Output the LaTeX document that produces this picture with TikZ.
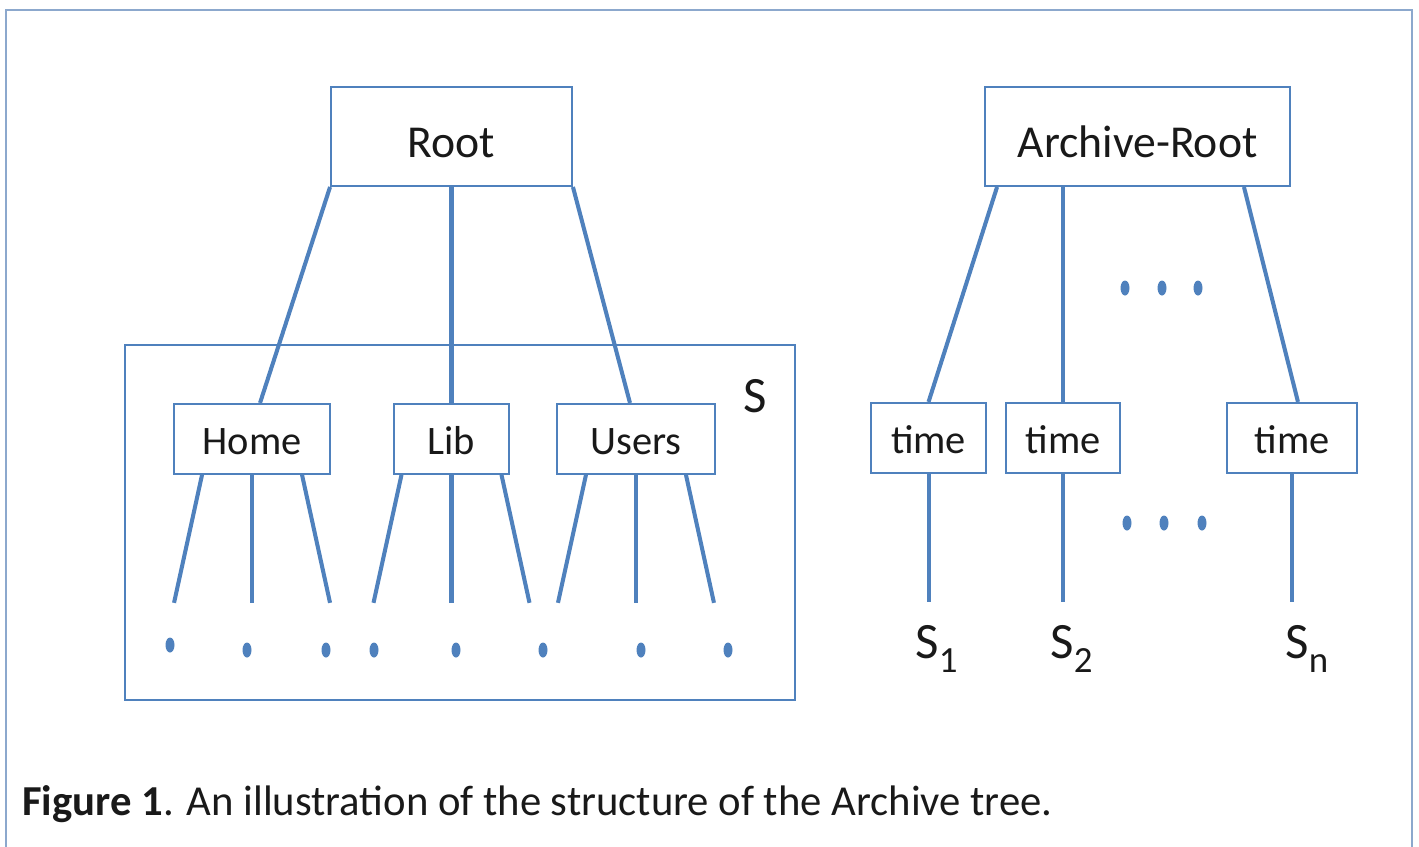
\documentclass[tikz,border=0pt]{standalone}
\usepackage{fontspec}
\setmainfont{Carlito}
\usetikzlibrary{positioning,calc}

\definecolor{treeblue}{RGB}{79,129,189}
\definecolor{framegray}{RGB}{140,168,205}
\newcommand{\lowsub}[1]{\raisebox{-8pt}{\fontsize{21}{21}\selectfont #1}}

\begin{document}
\begin{tikzpicture}[
    x=0.02cm, y=-0.02cm,
    node distance = 4.32cm,
    every node/.style = {align=center, text=black!90},
    box/.style = {draw=treeblue, line width=1.1pt, fill=white, inner sep=0pt,
                  minimum height=1.40cm, text height=0.64cm, text depth=0cm,
                  font=\fontsize{23}{28}\selectfont},
    topbox/.style = {box, minimum height=1.98cm, text height=0.82cm,
                     font=\fontsize{26}{31}\selectfont},
    link/.style = {draw=treeblue, line width=2.3pt},
    slabel/.style = {inner sep=0pt, font=\fontsize{29}{34}\selectfont},
  ]
    \useasboundingbox (0,0) rectangle (1419,846);

    % outer frame, open at the bottom
    \draw[framegray, line width=1.6pt] (6,870) -- (6,10) -- (1412,10) -- (1412,870);

    % left tree
    \node (root) [topbox, minimum width=4.82cm] at (451.5,136.5) {Root};
    \node (home) [box, minimum width=3.12cm, below=of root, xshift=-3.99cm] {Home};
    \node (lib) [box, minimum width=2.30cm, below=of root] {Lib};
    \node (users) [box, minimum width=3.16cm, below=of root, xshift=3.69cm] {Users};

    \draw[treeblue, line width=1.1pt] (125,345) rectangle (795,700);
    \node (S) [slabel] at (755,396) {S};

    \path[link] (root.south west) edge ([xshift=0.16cm]home.north)
                (root.south) edge (lib.north)
                (root.south east) edge ([xshift=-0.12cm]users.north);

    \foreach \p in {home,lib,users} {
      \foreach \d/\n in {-1/l,0/m,1/r} {
        \coordinate (\p-\n) at ($(\p.south)+(\d*78,128)$);
        \draw[link] ($(\p.south)+(\d*50,0)$) -- (\p-\n);
      }
    }
    \foreach \x/\y in {170/645,247/650,326/650,374/650,456/650,543/650,641/650,728/650}
      \fill[treeblue] (\x,\y) ellipse (4.5 and 7.5);

    % archive tree
    \node (arch) [topbox, minimum width=6.10cm] at (1137.5,136.5) {Archive-Root};
    \node (t1) [box, minimum width=2.30cm, below=4.30cm of arch, xshift=-4.18cm] {time};
    \node (t2) [box, minimum width=2.28cm, below=4.30cm of arch, xshift=-1.49cm] {time};
    \node (tn) [box, minimum width=2.60cm, below=4.30cm of arch, xshift=3.09cm] {time};

    \path[link] ([xshift=0.26cm]arch.south west) edge (t1.north)
                (t2.north |- arch.south) edge (t2.north)
                ([xshift=-0.94cm]arch.south east) edge ([xshift=0.12cm]tn.north);

    \foreach \t in {t1,t2,tn} {
      \coordinate (\t-end) at ($(\t.south)+(0,128)$);
      \draw[link] (\t.south) -- (\t-end);
    }
    \node (s1) [slabel, anchor=base west] at (915,658) {S\lowsub{1}};
    \node (s2) [slabel, anchor=base west] at (1050,658) {S\lowsub{2}};
    \node (sn) [slabel, anchor=base west] at (1285,658) {S\lowsub{n}};

    \foreach \x in {1125,1162,1198}
      \fill[treeblue] (\x,288) ellipse (4.5 and 7.5);
    \foreach \x in {1127,1164,1202}
      \fill[treeblue] (\x,523) ellipse (4.5 and 7.5);

    \node (caption) [anchor=base west, inner sep=0pt, font=\fontsize{24.3}{29}\selectfont] at (22,815)
      {\textbf{Figure 1}. An illustration of the structure of the Archive tree.};
\end{tikzpicture}
\end{document}
